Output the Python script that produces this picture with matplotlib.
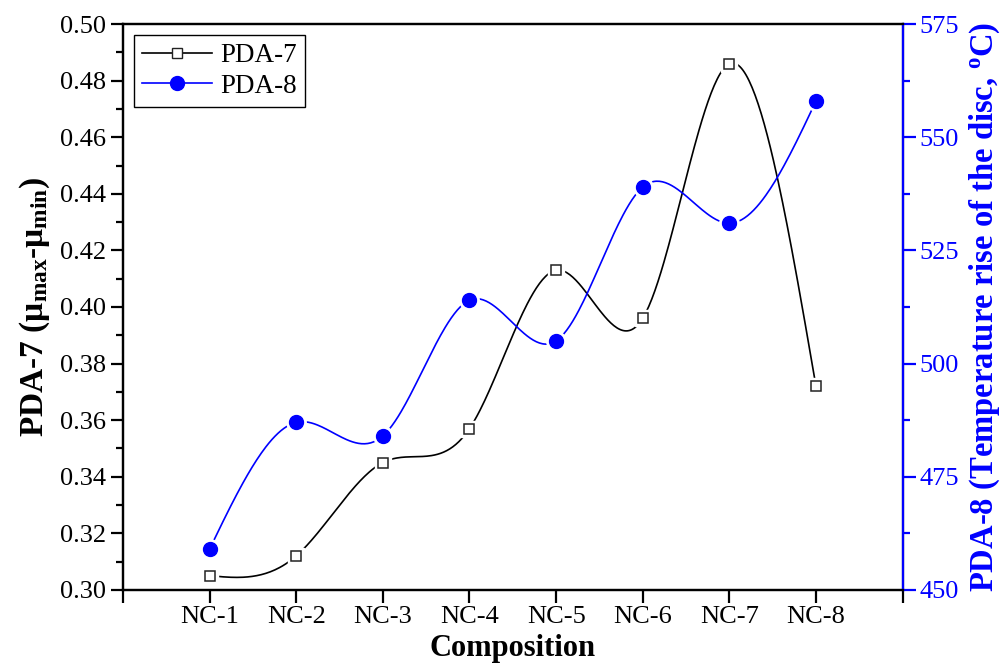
import numpy as np
import matplotlib
matplotlib.use("Agg")
import matplotlib.pyplot as plt
from matplotlib.ticker import MultipleLocator

plt.rcParams['font.family'] = ['Liberation Serif', 'DejaVu Serif']
plt.rcParams['mathtext.fontset'] = 'custom'
plt.rcParams['mathtext.rm'] = 'Liberation Serif'
plt.rcParams['mathtext.it'] = 'Liberation Serif:italic'
plt.rcParams['mathtext.bf'] = 'Liberation Serif:bold'

categories = ['NC-1', 'NC-2', 'NC-3', 'NC-4', 'NC-5', 'NC-6', 'NC-7', 'NC-8']
pda7 = [0.305, 0.312, 0.345, 0.357, 0.413, 0.396, 0.486, 0.372]
pda8 = [459, 487, 484, 514, 505, 539, 531, 558]


def natural_spline(x, y, n=400):
    # natural cubic spline through the points, like Origin's spline line
    x = np.asarray(x, float)
    y = np.asarray(y, float)
    k = len(x)
    h = np.diff(x)
    A = np.zeros((k, k))
    b = np.zeros(k)
    A[0, 0] = A[-1, -1] = 1
    for i in range(1, k - 1):
        A[i, i - 1] = h[i - 1]
        A[i, i] = 2 * (h[i - 1] + h[i])
        A[i, i + 1] = h[i]
        b[i] = 3 * ((y[i + 1] - y[i]) / h[i] - (y[i] - y[i - 1]) / h[i - 1])
    c = np.linalg.solve(A, b)
    xs = np.linspace(x[0], x[-1], n)
    idx = np.clip(np.searchsorted(x, xs) - 1, 0, k - 2)
    dx = xs - x[idx]
    bb = (y[idx + 1] - y[idx]) / h[idx] - h[idx] * (2 * c[idx] + c[idx + 1]) / 3
    dd = (c[idx + 1] - c[idx]) / (3 * h[idx])
    ys = y[idx] + bb * dx + c[idx] * dx ** 2 + dd * dx ** 3
    return xs, ys


x = np.arange(1, len(categories) + 1)

fig = plt.figure(figsize=(10.04, 6.71), dpi=100)
ax = fig.add_axes([0.1225, 0.121, 0.7765, 0.843])
ax2 = ax.twinx()

blue = '#0000ff'

xs, ys = natural_spline(x, pda7)
ax.plot(xs, ys, color='black', lw=1.2, zorder=2)
ax.plot(x, pda7, 's', ms=12, mfc='white', mec='white', zorder=3)
ax.plot(x, pda7, 's', ms=7.5, mfc='white', mec='#222222', mew=1.1, zorder=4)

xs2, ys2 = natural_spline(x, pda8)
ax2.plot(xs2, ys2, color=blue, lw=1.2, zorder=2)
ax2.plot(x, pda8, 'o', ms=14, mfc='white', mec='white', zorder=3)
ax2.plot(x, pda8, 'o', ms=10, mfc=blue, mec=blue, zorder=4)

ax.set_xlim(0, 9)
ax.set_ylim(0.30, 0.50)
ax2.set_ylim(450, 575)

ax.set_xticks(np.arange(0, 10))
ax.set_xticklabels([''] + categories + [''])
ax.yaxis.set_major_locator(MultipleLocator(0.02))
ax.yaxis.set_minor_locator(MultipleLocator(0.01))
ax.yaxis.set_major_formatter(matplotlib.ticker.FormatStrFormatter('%.2f'))
ax2.yaxis.set_major_locator(MultipleLocator(25))
ax2.yaxis.set_minor_locator(MultipleLocator(12.5))

for a in (ax, ax2):
    for s in a.spines.values():
        s.set_linewidth(1.6)
ax2.spines['right'].set_color(blue)

ax.tick_params(axis='both', which='major', direction='out', length=9, width=1.6,
               labelsize=19, top=False, right=False, pad=3)
ax.tick_params(axis='y', which='minor', direction='out', length=5, width=1.6)
ax2.tick_params(axis='y', which='major', direction='out', length=9, width=1.6,
                labelsize=19, colors=blue, pad=3)
ax2.tick_params(axis='y', which='minor', direction='out', length=5, width=1.6,
                colors=blue)

ax.set_xlabel('Composition', fontsize=22, fontweight='bold', labelpad=4)
ax.set_ylabel(r'PDA-7 (μ$_{\mathbf{max}}$-μ$_{\mathbf{min}}$)', fontsize=24,
              fontweight='bold', labelpad=6)
ax2.set_ylabel(r'PDA-8 (Temperature rise of the disc, $^{\mathbf{o}}$C)',
               fontsize=23.5, fontweight='bold', color=blue, labelpad=6)

h1 = matplotlib.lines.Line2D([], [], color='black', lw=1.2, marker='s', ms=7.5,
                             mfc='white', mec='#222222')
h2 = matplotlib.lines.Line2D([], [], color=blue, lw=1.2, marker='o', ms=10,
                             mfc=blue, mec=blue)
leg = ax.legend([h1, h2], ['PDA-7', 'PDA-8'], loc='upper left', fontsize=19.5,
                handlelength=2.6, fancybox=False, edgecolor='black',
                framealpha=1, borderaxespad=0.4, handletextpad=0.3,
                labelspacing=0.2, borderpad=0.3)
leg.get_frame().set_linewidth(1.0)
leg.set_zorder(10)

fig.savefig('out.png', dpi=100)
